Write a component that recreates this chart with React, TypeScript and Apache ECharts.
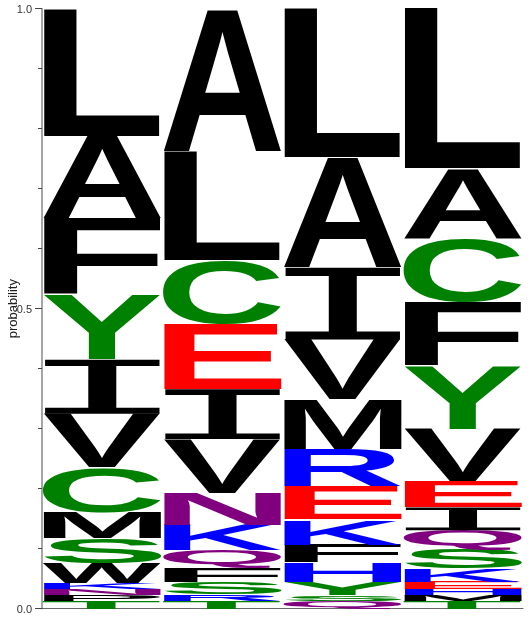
import React, { useEffect, useRef } from 'react';
import * as echarts from 'echarts';

// positions along the alignment
const positions = ['1', '2', '3', '4'];

// letters of each column, listed top to bottom, with their probabilities
const col1Letters = ['L', 'A', 'F', 'Y', 'I', 'V', 'C', 'M', 'S', 'W', 'K', 'N', 'P', 'T'];
const col1Probs = [0.212, 0.138, 0.128, 0.107, 0.09, 0.09, 0.075, 0.042, 0.042, 0.033, 0.01, 0.011, 0.01, 0.012];

const col2Letters = ['A', 'L', 'C', 'E', 'I', 'V', 'N', 'K', 'Q', 'F', 'S', 'R', 'T'];
const col2Probs = [0.238, 0.182, 0.106, 0.108, 0.083, 0.09, 0.053, 0.043, 0.03, 0.023, 0.02, 0.011, 0.013];

const col3Letters = ['L', 'A', 'I', 'V', 'M', 'R', 'E', 'K', 'F', 'H', 'Y', 'S', 'Q'];
const col3Probs = [0.2485, 0.183, 0.12, 0.1, 0.083, 0.062, 0.055, 0.042, 0.03, 0.032, 0.022, 0.0095, 0.013];

const col4Letters = ['L', 'A', 'C', 'F', 'Y', 'V', 'E', 'I', 'Q', 'S', 'K', 'E', 'H', 'M', 'T'];
const col4Probs = [0.267, 0.117, 0.105, 0.107, 0.105, 0.087, 0.043, 0.038, 0.032, 0.032, 0.022, 0.012, 0.01, 0.011, 0.012];

const columns = [
  { letters: col1Letters, probs: col1Probs },
  { letters: col2Letters, probs: col2Probs },
  { letters: col3Letters, probs: col3Probs },
  { letters: col4Letters, probs: col4Probs },
];

// chemistry colour scheme
const residueColors: Record<string, string> = {
  A: '#000000', V: '#000000', L: '#000000', I: '#000000', P: '#000000',
  W: '#000000', F: '#000000', M: '#000000',
  G: '#008000', S: '#008000', T: '#008000', Y: '#008000', C: '#008000',
  K: '#0000ff', R: '#0000ff', H: '#0000ff',
  D: '#ff0000', E: '#ff0000',
  N: '#800080', Q: '#800080',
};

const SANS_FONT = 'bold 100px "Liberation Sans", Arial, sans-serif';
// the reference I has full-width bars, so take it from a monospace face
const MONO_FONT = 'normal 100px "DejaVu Sans Mono", monospace';
const fontFor = (ch: string) => (ch === 'I' ? MONO_FONT : SANS_FONT);

type GlyphBox = { left: number; right: number; top: number; bottom: number };

// where the alphabetic baseline sits when the svg text uses dominant-baseline: central
const centralBaselineShift = (font: string) => {
  const ns = 'http://www.w3.org/2000/svg';
  const svg = document.createElementNS(ns, 'svg');
  svg.setAttribute('width', '10');
  svg.setAttribute('height', '10');
  svg.setAttribute('style', 'position:absolute;left:-9999px;top:0');
  const make = (baseline: string | null) => {
    const t = document.createElementNS(ns, 'text');
    t.setAttribute('style', `font: ${font}`);
    if (baseline) t.setAttribute('dominant-baseline', baseline);
    t.textContent = 'L';
    svg.appendChild(t);
    return t;
  };
  const plain = make(null);
  const central = make('central');
  document.body.appendChild(svg);
  const shift = central.getBBox().y - plain.getBBox().y;
  document.body.removeChild(svg);
  return shift;
};

const measureGlyphs = () => {
  const ctx = document.createElement('canvas').getContext('2d')!;
  ctx.textAlign = 'center';
  ctx.textBaseline = 'alphabetic';
  const shifts: Record<string, number> = {
    [SANS_FONT]: centralBaselineShift(SANS_FONT),
    [MONO_FONT]: centralBaselineShift(MONO_FONT),
  };
  const boxes: Record<string, GlyphBox> = {};
  Object.keys(residueColors).forEach((ch) => {
    const font = fontFor(ch);
    ctx.font = font;
    const m = ctx.measureText(ch);
    const base = shifts[font];
    boxes[ch] = {
      left: -m.actualBoundingBoxLeft,
      right: m.actualBoundingBoxRight,
      top: base - m.actualBoundingBoxAscent,
      bottom: base + m.actualBoundingBoxDescent,
    };
  });
  return boxes;
};

type Cell = { col: number; lo: number; hi: number; letter: string };

const buildCells = () => {
  const cells: Cell[] = [];
  columns.forEach((column, col) => {
    let base = 0;
    for (let i = column.letters.length - 1; i >= 0; i -= 1) {
      const p = column.probs[i];
      cells.push({ col, lo: base, hi: base + p, letter: column.letters[i] });
      base += p;
    }
  });
  return cells;
};

const App: React.FC = () => {
  const chartRef = useRef<HTMLDivElement>(null);

  useEffect(() => {
    if (!chartRef.current) return;
    const chart = echarts.init(chartRef.current, undefined, { renderer: 'svg' });
    const glyphs = measureGlyphs();
    const cells = buildCells();

    const option: any = {
      animation: false,
      grid: {
        left: 42,
        right: 8,
        top: 8.7,
        bottom: 18.3,
        containLabel: false,
        outerBoundsMode: 'none',
      },
      xAxis: {
        type: 'category',
        data: positions,
        boundaryGap: true,
        axisLine: { lineStyle: { color: '#666', width: 1 } },
        axisTick: { alignWithLabel: true, length: 3, lineStyle: { color: '#444' } },
        axisLabel: { show: false },
        splitLine: { show: false },
      },
      yAxis: {
        type: 'value',
        min: 0,
        max: 1,
        interval: 0.5,
        name: 'probability',
        nameLocation: 'middle',
        nameGap: 23,
        nameMoveOverlap: false,
        nameTextStyle: { fontFamily: 'Liberation Sans, Arial, sans-serif', fontSize: 13, color: '#222' },
        axisLine: { show: true, lineStyle: { color: '#888', width: 1.5 } },
        axisTick: { show: true, length: 7, lineStyle: { color: '#444' } },
        minorTick: { show: true, splitNumber: 5, length: 4, lineStyle: { color: '#444' } },
        axisLabel: {
          margin: 10,
          fontFamily: 'Liberation Sans, Arial, sans-serif',
          fontSize: 11,
          color: '#333',
          formatter: (v: number) => v.toFixed(1),
        },
        splitLine: { show: false },
        minorSplitLine: { show: false },
      },
      series: [
        {
          type: 'custom',
          silent: true,
          clip: false,
          data: cells.map((c) => [c.col, c.lo, c.hi]),
          encode: { x: 0, y: [1, 2] },
          renderItem: (params: any, api: any) => {
            const cell = cells[params.dataIndex];
            const [cx, yBottom] = api.coord([cell.col, cell.lo]);
            const [, yTop] = api.coord([cell.col, cell.hi]);
            const bandW = api.size([1, 0])[0] * 0.987;
            const h = yBottom - yTop;
            const g = glyphs[cell.letter];
            const sx = bandW / (g.right - g.left);
            const sy = h / (g.bottom - g.top);
            const localCx = (g.right + g.left) / 2;
            const localCy = (g.bottom + g.top) / 2;
            return {
              type: 'text',
              x: cx - sx * localCx,
              y: (yTop + yBottom) / 2 - sy * localCy,
              scaleX: sx,
              scaleY: sy,
              style: {
                text: cell.letter,
                font: fontFor(cell.letter),
                fill: residueColors[cell.letter],
                align: 'center',
                verticalAlign: 'middle',
              },
            };
          },
        },
      ],
    };

    chart.setOption(option);
    return () => chart.dispose();
  }, []);

  return (
    <div
      ref={chartRef}
      style={{ position: 'fixed', left: 0, top: 0, width: '531px', height: '627px' }}
    />
  );
};

export default App;
